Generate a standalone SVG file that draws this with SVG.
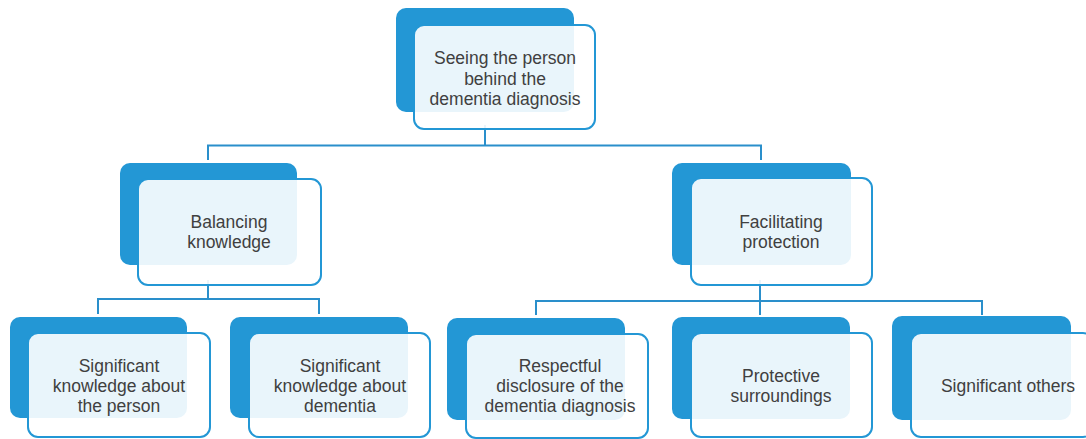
<svg xmlns="http://www.w3.org/2000/svg" width="1086" height="439" viewBox="0 0 1086 439">
<style>
.back{fill:#2397D5;}
.front{fill:#ffffff;fill-opacity:0.9;stroke:#2397D5;stroke-width:2;}
.conn{fill:none;stroke:#2A8FCB;stroke-width:2;}
text{font-family:"Liberation Sans",Arial,sans-serif;font-size:17.5px;fill:#404040;text-anchor:middle;}
</style>
<rect width="1086" height="439" fill="#ffffff"/>
<g id="connectors">
<path class="conn" d="M485,125 V145.5 M208,160 V145.5 H761 V160"/>
<path class="conn" d="M208,280 V299 M98,314 V299 H319 V314"/>
<path class="conn" d="M760,280 V301 M536,315 V301 H982 V315 M760,301 V315"/>
</g>
<g id="n-top">
<rect class="back" x="396" y="8" width="178" height="104" rx="10"/>
<rect class="front" x="414" y="25" width="181" height="104" rx="10"/>
<text x="505" y="64">Seeing the person</text>
<text x="505" y="84.5">behind the</text>
<text x="505" y="105">dementia diagnosis</text>
</g>
<g id="n-balancing">
<rect class="back" x="120" y="163" width="177" height="102" rx="10"/>
<rect class="front" x="138" y="179" width="183" height="106" rx="10"/>
<text x="229" y="228">Balancing</text>
<text x="229" y="248">knowledge</text>
</g>
<g id="n-facilitating">
<rect class="back" x="672" y="163" width="179" height="102" rx="10"/>
<rect class="front" x="691" y="178" width="181" height="107" rx="10"/>
<text x="781" y="228">Facilitating</text>
<text x="781" y="248">protection</text>
</g>
<g id="n-person">
<rect class="back" x="10" y="317" width="177" height="101" rx="10"/>
<rect class="front" x="28" y="333" width="182" height="104" rx="10"/>
<text x="119" y="372">Significant</text>
<text x="119" y="392">knowledge about</text>
<text x="119" y="412">the person</text>
</g>
<g id="n-dementia">
<rect class="back" x="230" y="317" width="178" height="101" rx="10"/>
<rect class="front" x="249" y="333" width="181" height="104" rx="10"/>
<text x="340" y="372">Significant</text>
<text x="340" y="392">knowledge about</text>
<text x="340" y="412">dementia</text>
</g>
<g id="n-respectful">
<rect class="back" x="447" y="318" width="178" height="102" rx="10"/>
<rect class="front" x="466" y="334" width="182" height="104" rx="10"/>
<text x="560" y="372">Respectful</text>
<text x="560" y="392">disclosure of the</text>
<text x="560" y="412">dementia diagnosis</text>
</g>
<g id="n-protective">
<rect class="back" x="672" y="317" width="178" height="102" rx="10"/>
<rect class="front" x="691" y="333" width="181" height="104" rx="10"/>
<text x="781" y="382">Protective</text>
<text x="781" y="402">surroundings</text>
</g>
<g id="n-others">
<rect class="back" x="892" y="316" width="179" height="104" rx="10"/>
<rect class="front" x="911" y="333" width="182" height="104" rx="10"/>
<text x="1008" y="392">Significant others</text>
</g>
</svg>
